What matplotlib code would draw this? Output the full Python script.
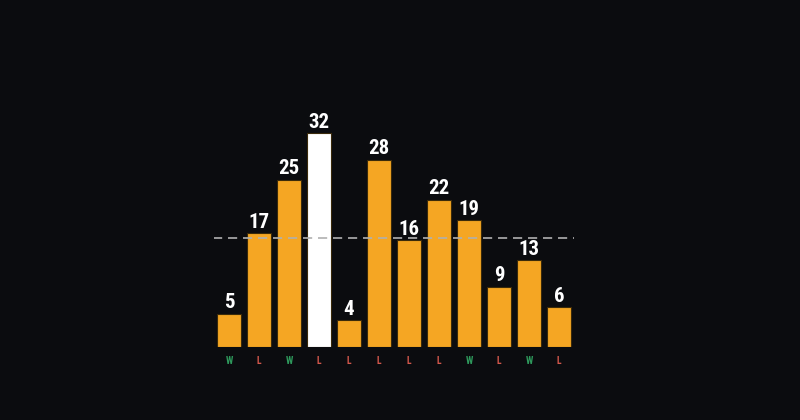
import matplotlib
matplotlib.use("Agg")
import matplotlib.pyplot as plt
from matplotlib import font_manager
import numpy as np

values = [5, 17, 25, 32, 4, 28, 16, 22, 19, 9, 13, 6]
results = ["W", "L", "W", "L", "L", "L", "L", "L", "W", "L", "W", "L"]
highlight_index = 3

BG = "#0b0c0f"
ORANGE = "#f5a623"
WHITE = "#ffffff"
GREEN = "#2e9a5c"
RED = "#d2574b"

names = {f.name for f in font_manager.fontManager.ttflist}
LABEL_FONT = "DejaVu Sans"
for cand in ["Roboto Condensed", "Liberation Sans Narrow", "Open Sans Condensed", "Roboto"]:
    if cand in names:
        LABEL_FONT = cand
        break

fig = plt.figure(figsize=(8, 4.2), dpi=100, facecolor=BG)
ax = fig.add_axes([214/800, 73/420, 360/800, 267.6/420])
ax.set_facecolor(BG)

x = np.arange(len(values))
colors = [WHITE if i == highlight_index else ORANGE for i in range(len(values))]
ax.bar(x, values, width=0.8, color=colors, edgecolor="#3a2a0a", linewidth=0.8, zorder=2)

avg = np.mean(values)
ax.axhline(avg, color="#b0b0b0", linestyle=(0, (5.5, 3.5)), linewidth=1.2,
           xmin=-0.003, xmax=1.0, zorder=3)

for xi, v in zip(x, values):
    ax.text(xi, v + 0.2, str(v), ha="center", va="bottom", color="white",
            fontsize=15, fontweight="heavy", family=LABEL_FONT, zorder=4)

for xi, r in zip(x, results):
    ax.text(xi, -2.1, r, ha="center", va="center", color=GREEN if r == "W" else RED,
            fontsize=7, fontweight="bold", family=LABEL_FONT)

ax.set_xlim(-0.5, 11.5)
ax.set_ylim(0, 40)
ax.axis("off")

fig.savefig("out.png", dpi=100, facecolor=BG)
